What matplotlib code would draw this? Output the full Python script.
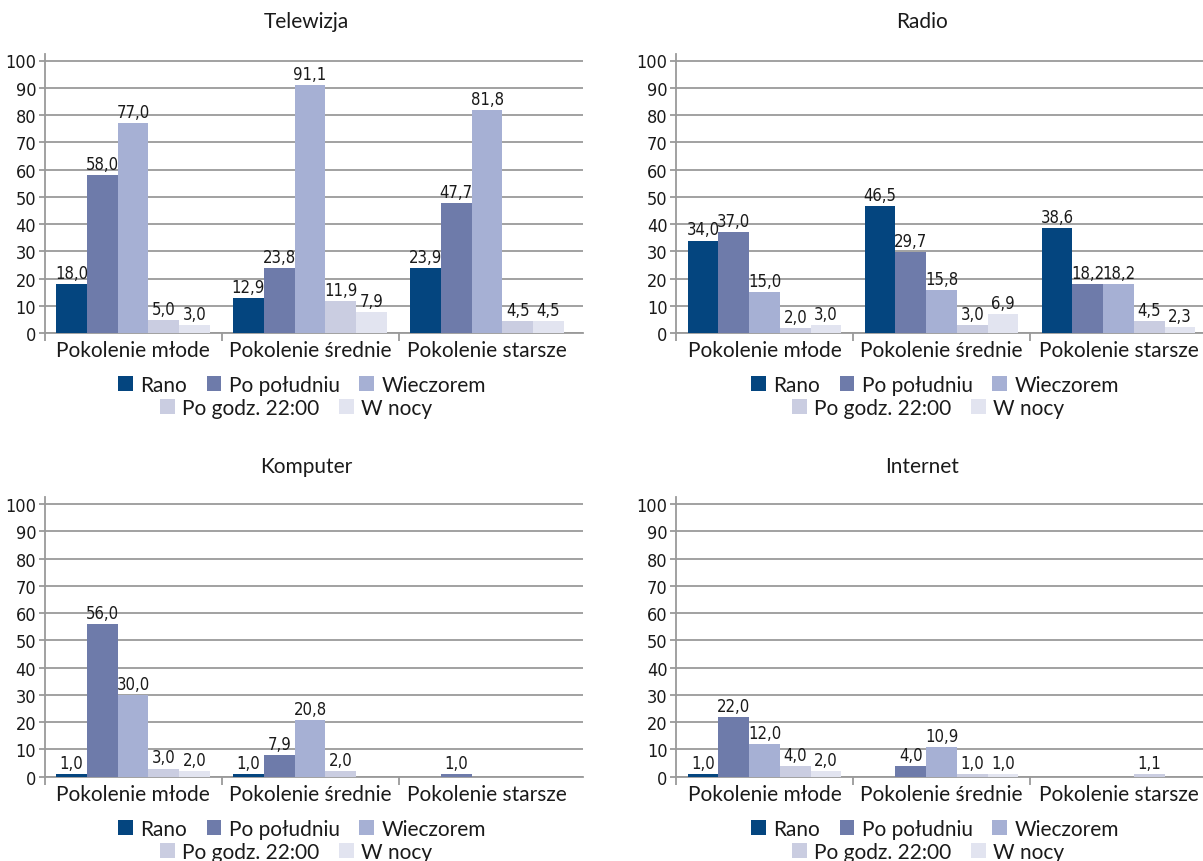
import numpy as np
import matplotlib
matplotlib.use("Agg")
import matplotlib.pyplot as plt
from matplotlib import font_manager
from matplotlib.patches import Patch

# ---- data -------------------------------------------------------------
categories = ["Pokolenie młode", "Pokolenie średnie", "Pokolenie starsze"]
series = ["Rano", "Po południu", "Wieczorem", "Po godz. 22:00", "W nocy"]
y_ticks = list(range(0, 101, 10))

# rows = series (Rano ... W nocy), columns = categories; None = no answer
telewizja = [
    [18.0, 12.9, 23.9],
    [58.0, 23.8, 47.7],
    [77.0, 91.1, 81.8],
    [5.0, 11.9, 4.5],
    [3.0, 7.9, 4.5],
]
radio = [
    [34.0, 46.5, 38.6],
    [37.0, 29.7, 18.2],
    [15.0, 15.8, 18.2],
    [2.0, 3.0, 4.5],
    [3.0, 6.9, 2.3],
]
komputer = [
    [1.0, 1.0, None],
    [56.0, 7.9, 1.0],
    [30.0, 20.8, None],
    [3.0, 2.0, None],
    [2.0, None, None],
]
internet = [
    [1.0, None, None],
    [22.0, 4.0, None],
    [12.0, 10.9, None],
    [4.0, 1.0, 1.1],
    [2.0, 1.0, None],
]

# ---- style ------------------------------------------------------------
colors = ["#04457F", "#6E7BAA", "#A6B0D4", "#CACDE1", "#E2E4F0"]
grid_color = "#9A9A9A"
ink = "#1a1a1a"

available = {f.name for f in font_manager.fontManager.ttflist}
if "Liberation Sans Narrow" in available:
    num_font = dict(family="Liberation Sans Narrow")
else:
    num_font = dict(family="DejaVu Sans", stretch="condensed")
text_family = "Lato" if "Lato" in available else "DejaVu Sans"
plt.rcParams["font.family"] = [text_family, "DejaVu Sans"]

W, H = 1203, 862
fig = plt.figure(figsize=(W / 100, H / 100), dpi=100)

CAT_PX = 177.0          # width of one category slot in pixels
EXTRA = 7.0             # plot area runs a little past the last slot
YMAX = 102.5


def px_rect(x0, y_zero, y_hundred):
    unit = (y_zero - y_hundred) / 100.0
    top = y_zero - YMAX * unit
    x1 = x0 + 3 * CAT_PX + EXTRA
    return [x0 / W, 1 - y_zero / H, (x1 - x0) / W, (y_zero - top) / H]


panels = [
    ("Telewizja", telewizja, px_rect(44.5, 334.3, 61.5), 306, 22, 302, 386, 296, 409),
    ("Radio", radio, px_rect(676.0, 334.3, 61.5), 922, 22, 935, 386, 928, 409),
    ("Komputer", komputer, px_rect(44.5, 777.7, 505.0), 306, 467, 302, 830, 296, 853),
    ("Internet", internet, px_rect(676.0, 777.7, 505.0), 922, 467, 935, 830, 928, 853),
]

n = len(series)
group_w = 0.87
bar_w = group_w / n
x = np.arange(len(categories))

handles = [Patch(facecolor=c, edgecolor="none", label=s) for c, s in zip(colors, series)]
legend_kw = dict(loc="center", frameon=False, fontsize=15, handlelength=0.7,
                 handleheight=0.7, handletextpad=0.35, columnspacing=0.95,
                 borderpad=0, borderaxespad=0)

for title, data, rect, tx, ty, l1x, l1y, l2x, l2y in panels:
    ax = fig.add_axes(rect)
    for i, (name, vals, col) in enumerate(zip(series, data, colors)):
        heights = np.array([np.nan if v is None else v for v in vals], dtype=float)
        xpos = x - group_w / 2 + bar_w * (i + 0.5)
        ax.bar(xpos, heights, width=bar_w, color=col, edgecolor="none", zorder=3)
        for xp, v in zip(xpos, vals):
            if v is None:
                continue
            ax.annotate(f"{v:.1f}".replace(".", ","), (xp, v), xytext=(0, 1.5),
                        textcoords="offset points", ha="center", va="bottom",
                        fontsize=12, color=ink, zorder=4, **num_font)

    ax.set_xlim(-0.5, len(categories) - 0.5 + EXTRA / CAT_PX)
    ax.set_ylim(0, YMAX)
    ax.set_yticks(y_ticks)
    ax.set_yticklabels([str(t) for t in y_ticks], fontsize=13, color=ink, **num_font)
    ax.yaxis.grid(True, color=grid_color, linewidth=1.3, zorder=0)
    ax.set_axisbelow(True)

    ax.set_xticks(x)
    ax.set_xticklabels(categories, fontsize=15, color=ink)
    ax.set_xticks(np.arange(-0.5, len(categories) - 0.5, 1.0), minor=True)
    ax.tick_params(axis="x", which="major", length=0, pad=5)
    ax.tick_params(axis="x", which="minor", length=6, width=1.3, color=grid_color, direction="out")
    ax.tick_params(axis="y", length=4, width=1.3, color=grid_color, pad=2, direction="out")

    for side in ("top", "right"):
        ax.spines[side].set_visible(False)
    for side in ("left", "bottom"):
        ax.spines[side].set_color(grid_color)
        ax.spines[side].set_linewidth(1.3)

    fig.text(tx / W, 1 - ty / H, title, ha="center", va="center", fontsize=15, color=ink)

    leg1 = fig.legend(handles=handles[:3], bbox_to_anchor=(l1x / W, 1 - l1y / H), ncol=3, **legend_kw)
    leg2 = fig.legend(handles=handles[3:], bbox_to_anchor=(l2x / W, 1 - l2y / H), ncol=2, **legend_kw)
    for leg in (leg1, leg2):
        for t in leg.get_texts():
            t.set_color(ink)

fig.savefig("out.png", dpi=100)
